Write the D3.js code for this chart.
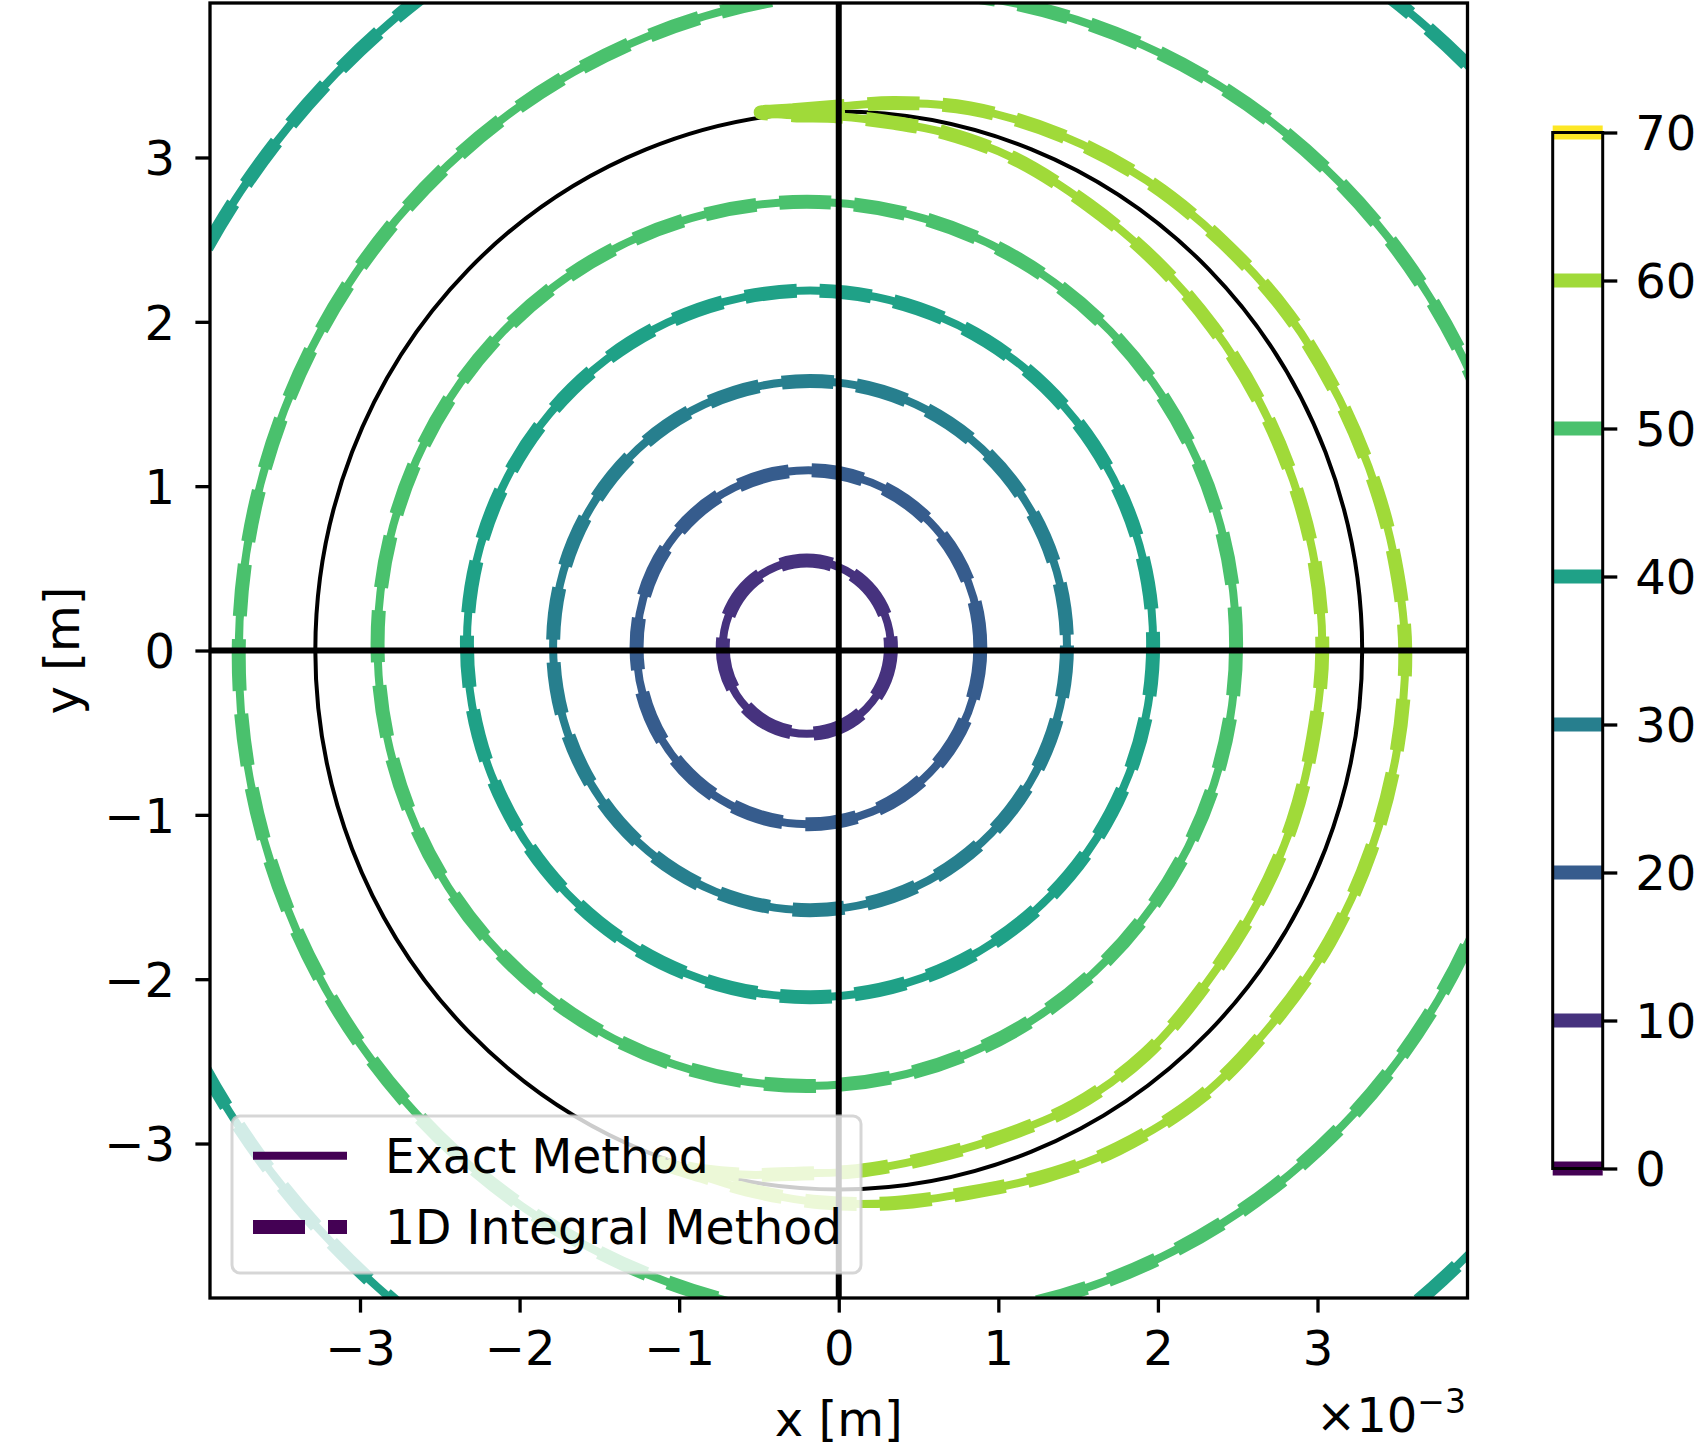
<!DOCTYPE html>
<html>
<head>
<meta charset="utf-8">
<script src="https://cdn.jsdelivr.net/npm/d3@7"></script>
<style>
  body { margin: 0; background: #fff; }
  text { font-family: "DejaVu Sans", sans-serif; fill: #000; }
</style>
</head>
<body>
<div id="chart"></div>
<script>
// contour levels (colorbar)
const levels = [0, 10, 20, 30, 40, 50, 60, 70];
const xTicks = [-3, -2, -1, 0, 1, 2, 3];
const yTicks = [-3, -2, -1, 0, 1, 2, 3];

// closed ring contours: level, centre and radius (x 1e-3 m)
const ringLevel = [10, 20, 30, 40, 50, 50, 40];
const ringCx = [-0.20, -0.19, -0.18, -0.18, -0.20, 0.29, 0.42];
const ringCy = [0.02, 0.02, 0.03, 0.04, 0.04, -0.03, -0.06];
const ringR = [0.527, 1.077, 1.61, 2.15, 2.69, 4.05, 5.05];

// level 60 crescent hugging the boundary, polar samples (deg, x 1e-3 m)
const crescentLevel = 60;
const outerAngle = [98.5, 95, 90, 84, 76, 66, 56, 46, 36, 26, 16, 8, 0, -10, -20, -30, -40, -50, -60, -68, -76, -84, -92, -100, -105];
const outerRadius = [3.31, 3.30, 3.31, 3.35, 3.40, 3.43, 3.45, 3.46, 3.48, 3.49, 3.51, 3.53, 3.55, 3.55, 3.55, 3.55, 3.54, 3.54, 3.50, 3.45, 3.40, 3.38, 3.36, 3.33, 3.31];
const innerAngle = [-109.5, -105, -100, -94, -88, -80, -72, -62, -52, -42, -30, -20, -10, 0, 10, 20, 30, 40, 50, 60, 70, 78, 84, 90, 95];
const innerRadius = [3.31, 3.28, 3.24, 3.19, 3.17, 3.14, 3.13, 3.14, 3.12, 3.07, 3.04, 3.03, 3.02, 3.03, 3.03, 3.03, 3.04, 3.06, 3.09, 3.13, 3.19, 3.22, 3.23, 3.25, 3.27];

// boundary circle radius (x 1e-3 m)
const boundaryRadius = 3.28;

const legendLabels = ["Exact Method", "1D Integral Method"];

(function contour_chart() {
    const width = 1707,
        height = 1447,
        margin = ({ top: 3, right: 239.5, bottom: 149, left: 210 });

    const svg = d3.select("#chart")
        .append("svg")
        .attr("width", width)
        .attr("height", height);

    let x = d3.scaleLinear()
        .domain([-3.94, 3.94])
        .range([margin.left, width - margin.right]);

    let y = d3.scaleLinear()
        .domain([-3.94, 3.94])
        .range([height - margin.bottom, margin.top]);

    let color = d3.scaleSequential(d3.interpolateViridis).domain([0, 70]);

    svg.append("clipPath")
        .attr("id", "clip")
        .append("rect")
        .attr("x", x.range()[0])
        .attr("y", y.range()[1])
        .attr("width", x.range()[1] - x.range()[0])
        .attr("height", y.range()[0] - y.range()[1]);

    const plot = svg.append("g").attr("clip-path", "url(#clip)");

    // boundary circle
    plot.append("ellipse")
        .attr("cx", x(0))
        .attr("cy", y(0))
        .attr("rx", x(boundaryRadius) - x(0))
        .attr("ry", y(0) - y(boundaryRadius))
        .attr("fill", "none")
        .attr("stroke", "black")
        .attr("stroke-width", 4);

    const rings = ringLevel.map((lv, i) => ({ level: lv, cx: ringCx[i], cy: ringCy[i], r: ringR[i] }));

    const toXY = (a, r) => [r * Math.cos(a * Math.PI / 180), r * Math.sin(a * Math.PI / 180)];
    const crescent = outerAngle.map((a, i) => toXY(a, outerRadius[i]))
        .concat(innerAngle.map((a, i) => toXY(a, innerRadius[i])));

    let line = d3.line()
        .x(d => x(d[0]))
        .y(d => y(d[1]))
        .curve(d3.curveCatmullRomClosed.alpha(0.5));

    // exact method = thin solid, 1D integral = thick dashed
    const styles = [{ w: 8, dash: null }, { w: 14, dash: "52 23" }];
    for (let s of styles) {
        plot.selectAll(null)
            .data(rings)
            .join("ellipse")
            .attr("cx", d => x(d.cx))
            .attr("cy", d => y(d.cy))
            .attr("rx", d => x(d.cx + d.r) - x(d.cx))
            .attr("ry", d => y(d.cy) - y(d.cy + d.r))
            .attr("fill", "none")
            .attr("stroke", d => color(d.level))
            .attr("stroke-width", s.w)
            .attr("stroke-dasharray", s.dash);

        plot.append("path")
            .datum(crescent)
            .attr("d", line)
            .attr("fill", "none")
            .attr("stroke", color(crescentLevel))
            .attr("stroke-width", s.w)
            .attr("stroke-linejoin", "round")
            .attr("stroke-dasharray", s.dash);
    }

    // zero lines
    plot.append("line")
        .attr("x1", x.range()[0]).attr("x2", x.range()[1])
        .attr("y1", y(0)).attr("y2", y(0))
        .attr("stroke", "black").attr("stroke-width", 6);
    plot.append("line")
        .attr("x1", x(0)).attr("x2", x(0))
        .attr("y1", y.range()[0]).attr("y2", y.range()[1])
        .attr("stroke", "black").attr("stroke-width", 6);

    // legend
    const lg = svg.append("g");
    lg.append("rect")
        .attr("x", 232).attr("y", 1116)
        .attr("width", 629).attr("height", 157)
        .attr("rx", 8)
        .attr("fill", "white").attr("fill-opacity", 0.8)
        .attr("stroke", "#cccccc").attr("stroke-opacity", 0.8)
        .attr("stroke-width", 3);
    legendLabels.forEach((lab, i) => {
        const ly = 1155.7 + i * 71.3;
        lg.append("line")
            .attr("x1", 253).attr("x2", 347)
            .attr("y1", ly).attr("y2", ly)
            .attr("stroke", color(0))
            .attr("stroke-width", styles[i].w)
            .attr("stroke-dasharray", styles[i].dash);
        lg.append("text")
            .attr("x", 385)
            .attr("y", ly + 17)
            .attr("font-size", 47.3)
            .text(lab);
    });

    // frame
    svg.append("rect")
        .attr("x", x.range()[0])
        .attr("y", y.range()[1])
        .attr("width", x.range()[1] - x.range()[0])
        .attr("height", y.range()[0] - y.range()[1])
        .attr("fill", "none")
        .attr("stroke", "black")
        .attr("stroke-width", 3.3);

    const styleAxis = g => {
        g.select(".domain").remove();
        g.selectAll(".tick line").attr("stroke", "black").attr("stroke-width", 3.3);
        g.selectAll(".tick text").attr("font-size", 48).attr("fill", "black")
            .attr("font-family", "DejaVu Sans");
    };

    svg.append("g")
        .attr("transform", `translate(0,${height - margin.bottom})`)
        .call(d3.axisBottom(x)
            .tickValues(xTicks)
            .tickSize(14.6)
            .tickPadding(18.3)
            .tickFormat(d3.format("d")))
        .call(styleAxis);

    svg.append("g")
        .attr("transform", `translate(${margin.left},0)`)
        .call(d3.axisLeft(y)
            .tickValues(yTicks)
            .tickSize(14.6)
            .tickPadding(20.4)
            .tickFormat(d3.format("d")))
        .call(styleAxis)
        .call(g => g.selectAll(".tick text").attr("dy", "0.36em"));

    svg.append("text")
        .attr("x", (x.range()[0] + x.range()[1]) / 2)
        .attr("y", 1436)
        .attr("text-anchor", "middle")
        .attr("font-size", 48)
        .text("x [m]");

    svg.append("text")
        .attr("transform", `translate(79,${(y.range()[0] + y.range()[1]) / 2}) rotate(-90)`)
        .attr("text-anchor", "middle")
        .attr("font-size", 48)
        .text("y [m]");

    const off = svg.append("text")
        .attr("x", 1466)
        .attr("y", 1431.7)
        .attr("text-anchor", "end")
        .attr("font-size", 48);
    off.append("tspan").text("×10");
    off.append("tspan").attr("dy", -19).attr("font-size", 33).text("−3");

    // colorbar
    let cb = d3.scaleLinear()
        .domain([0, 70])
        .range([1168.5, 132.5]);
    const cbLeft = 1552.7, cbRight = 1602.7;

    svg.selectAll(null)
        .data(levels)
        .join("line")
        .attr("x1", cbLeft).attr("x2", cbRight)
        .attr("y1", d => cb(d)).attr("y2", d => cb(d))
        .attr("stroke", d => color(d))
        .attr("stroke-width", 14);

    svg.append("rect")
        .attr("x", cbLeft).attr("y", cb(70))
        .attr("width", cbRight - cbLeft)
        .attr("height", cb(0) - cb(70))
        .attr("fill", "none")
        .attr("stroke", "black")
        .attr("stroke-width", 3);

    svg.append("g")
        .attr("transform", `translate(${cbRight},0)`)
        .call(d3.axisRight(cb)
            .tickValues(levels)
            .tickSize(14.6)
            .tickPadding(18)
            .tickFormat(d3.format("d")))
        .call(styleAxis)
        .call(g => g.selectAll(".tick text").attr("dy", "0.36em"));
})();
</script>
</body>
</html>
